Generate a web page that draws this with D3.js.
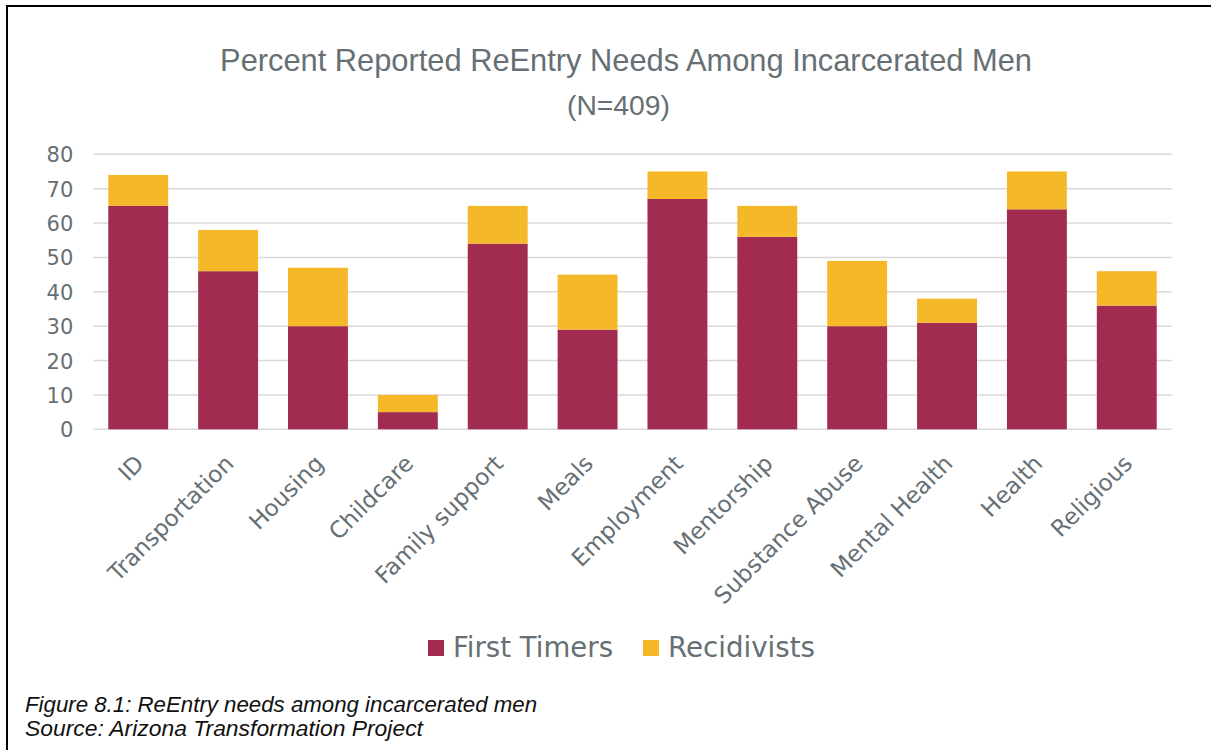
<!DOCTYPE html>
<html>
<head>
<meta charset="utf-8">
<script src="https://cdn.jsdelivr.net/npm/d3@7"></script>
<style>
  html, body { margin: 0; padding: 0; background: #fff; }
  svg { display: block; }
</style>
</head>
<body>
<svg id="chart" width="1211" height="750"></svg>
<script>
// ---- data ----
const categories = ["ID", "Transportation", "Housing", "Childcare", "Family support", "Meals",
  "Employment", "Mentorship", "Substance Abuse", "Mental Health", "Health", "Religious"];
const firstTimers = [65, 46, 30, 5, 54, 29, 67, 56, 30, 31, 64, 36];
const recidivists = [9, 12, 17, 5, 11, 16, 8, 9, 19, 7, 11, 10];
const seriesNames = ["First Timers", "Recidivists"];
const seriesColors = ["#A12C4F", "#F5B829"];
const yTicks = [0, 10, 20, 30, 40, 50, 60, 70, 80];
const titleText = "Percent Reported ReEntry Needs Among Incarcerated Men";
const subtitleText = "(N=409)";
const captionLines = ["Figure 8.1: ReEntry needs among incarcerated men", "Source: Arizona Transformation Project"];

const FONT = "'DejaVu Sans', 'Liberation Sans', sans-serif";
const TFONT = "'Liberation Sans', Arial, sans-serif";
const GRAY = "#667074";

const svg = d3.select("#chart");

// frame
svg.append("path")
  .attr("d", "M7,760 L7,6 L1215,6")
  .attr("fill", "none").attr("stroke", "#000").attr("stroke-width", 2);

// helper: fit text to a width by adjusting font-size
function fitText(sel, target) {
  const node = sel.node();
  const fs = parseFloat(sel.attr("font-size"));
  const w = node.getComputedTextLength();
  sel.attr("font-size", (fs * target / w).toFixed(2));
}

const margin = { left: 93.3, right: 1171.7, top: 154.3, bottom: 429.3 };

const x = d3.scaleBand().domain(categories)
  .range([margin.left, margin.right])
  .paddingInner(1 / 3).paddingOuter(1 / 6);
const y = d3.scaleLinear().domain([0, 80]).range([margin.bottom, margin.top]);

// gridlines
svg.append("g").selectAll("line").data(yTicks).join("line")
  .attr("x1", margin.left).attr("x2", margin.right)
  .attr("y1", d => y(d)).attr("y2", d => y(d))
  .attr("stroke", "#d9d9dd").attr("stroke-width", 1.6);

// y axis labels via d3 axis
const yAxis = svg.append("g")
  .attr("transform", `translate(${margin.left - 20},0)`)
  .call(d3.axisLeft(y).tickValues(yTicks).tickSize(0).tickPadding(0));
yAxis.select(".domain").remove();
yAxis.selectAll("text")
  .attr("font-family", FONT).attr("font-size", 21).attr("fill", GRAY)
  .attr("dy", "0.36em");

// stacked bars
const rows = categories.map((c, i) => ({ cat: c, "First Timers": firstTimers[i], "Recidivists": recidivists[i] }));
const stack = d3.stack().keys(seriesNames)(rows);
svg.append("g").selectAll("g").data(stack).join("g")
  .attr("fill", (d, i) => seriesColors[i])
  .selectAll("rect").data(d => d).join("rect")
  .attr("x", d => x(d.data.cat))
  .attr("width", x.bandwidth())
  .attr("y", d => y(d[1]))
  .attr("height", d => y(d[0]) - y(d[1]));

// x labels
svg.append("g").selectAll("text").data(categories).join("text")
  .attr("transform", d => `translate(${x(d) + x.bandwidth() / 2 + 7},465) rotate(-45)`)
  .attr("text-anchor", "end")
  .attr("font-family", FONT).attr("font-size", 23).attr("fill", GRAY)
  .text(d => d);

// title
const title = svg.append("text")
  .attr("x", 626).attr("y", 71).attr("text-anchor", "middle")
  .attr("font-family", TFONT).attr("font-size", 30).attr("fill", GRAY)
  .text(titleText);
fitText(title, 812);
const sub = svg.append("text")
  .attr("x", 618.5).attr("y", 115).attr("text-anchor", "middle")
  .attr("font-family", TFONT).attr("font-size", 26).attr("fill", GRAY)
  .text(subtitleText);
fitText(sub, 103);

// legend
const legendPos = [{ sq: 428, tx: 453, w: 160 }, { sq: 643, tx: 668, w: 147 }];
const lg = svg.append("g").selectAll("g").data(seriesNames).join("g");
lg.append("rect")
  .attr("x", (d, i) => legendPos[i].sq).attr("y", 640)
  .attr("width", 16).attr("height", 16)
  .attr("fill", (d, i) => seriesColors[i]);
lg.append("text")
  .attr("x", (d, i) => legendPos[i].tx).attr("y", 657)
  .attr("font-family", FONT).attr("font-size", 27).attr("fill", GRAY)
  .text(d => d)
  .each(function (d, i) { fitText(d3.select(this), legendPos[i].w); });

// caption
const capW = [512, 398];
svg.append("g").selectAll("text").data(captionLines).join("text")
  .attr("x", 25).attr("y", (d, i) => 711.5 + i * 24.5)
  .attr("font-family", TFONT)
  .attr("font-style", "italic").attr("font-size", 19).attr("fill", "#111")
  .text(d => d)
  .each(function (d, i) { fitText(d3.select(this), capW[i]); });
</script>
</body>
</html>
